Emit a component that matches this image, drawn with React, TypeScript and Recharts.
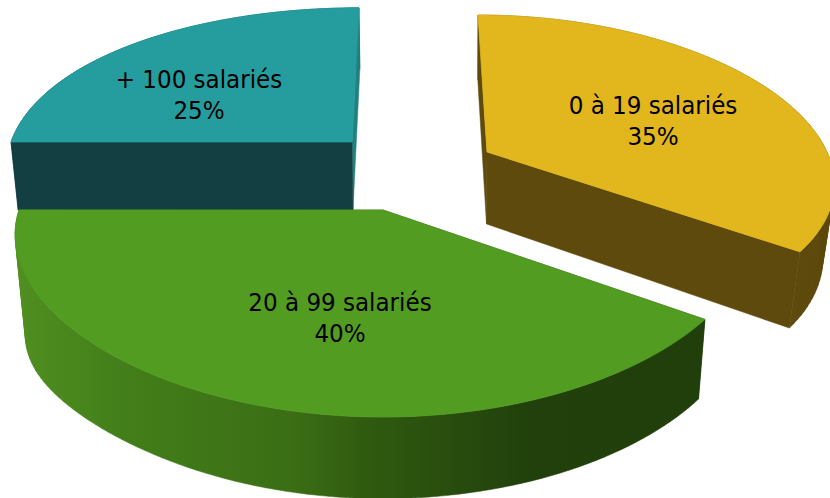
import { PieChart, Pie } from 'recharts'

const categories = ['+ 100 salariés', '0 à 19 salariés', '20 à 99 salariés']
const shares = [25, 35, 40]

const chartData = categories.map((name, i) => ({ name, value: shares[i] }))

const FONT = '"DejaVu Sans Condensed", "DejaVu Sans", sans-serif'

// how each exploded slice is tilted and pushed away from the pie centre
const sliceLooks = [
  {
    dx: -31, dy: -68, rx: 341, ry: 161, px: 0.145, py: 0.2, shear: -7,
    depth: 68, depthTilt: 0.1, sag: 0, shrink: 0.982, baseDx: 1,
    top: '#259d9e', startWall: '#133e42', endWall: '#23807f', arcWall: '#133e42',
    labelX: -184, labelY: -122,
  },
  {
    dx: 104, dy: -58, rx: 340, ry: 156, px: 0.18, py: 0.139, shear: 9,
    depth: 72, depthTilt: 0.1, sag: 0, shrink: 0.968, baseDx: -0.5,
    top: '#e2b61d', startWall: '#5e4a0d', endWall: '#5e4a0d', arcWall: '#5e4a0d',
    labelX: 270, labelY: -96,
  },
  {
    dx: 0, dy: 0, rx: 364, ry: 162.7, px: 0.145, py: 0.214, shear: 0,
    depth: 77, depthTilt: 0.06, sag: 23, shrink: 0.98, baseDx: 0,
    top: '#529c22', startWall: '#203f0b', endWall: 'url(#greenWall)', arcWall: 'url(#greenWall)',
    labelX: -43, labelY: 101,
  },
]

type Look = (typeof sliceLooks)[number]

function project(look: Look, cx: number, cy: number, angle: number, onBase = false) {
  const a = (angle * Math.PI) / 180
  const u = Math.cos(a)
  const v = -Math.sin(a)
  const ax = cx + look.dx
  const ay = cy + look.dy
  const x = (look.rx * u) / (1 - look.px * v) + look.shear * v
  const y = (look.ry * v) / (1 - look.py * v)
  if (!onBase) return { x: ax + x, y: ay + y }
  // the wall gets a bit taller towards the far left of the big slice
  const sag = u < 0 ? look.sag * Math.pow(-u, 6) : 0
  const fade = Math.min(1, Math.max(0, v / 0.15))
  return {
    x: ax + look.baseDx + x * look.shrink + sag * 0.13,
    y: ay + y + look.depth * (1 + look.depthTilt * v) + sag * fade,
  }
}

function arcAngles(start: number, end: number) {
  const steps = Math.ceil(Math.abs(start - end) / 1.5)
  return Array.from({ length: steps + 1 }, (_, i) => start + ((end - start) * i) / steps)
}

// keep every quad wound the same way, otherwise overlaps cancel out in one path
function quad(a: any, b: any, c: any, d: any) {
  const pts = [a, b, c, d]
  const area = pts.reduce((s, p, i) => {
    const q = pts[(i + 1) % 4]
    return s + p.x * q.y - q.x * p.y
  }, 0)
  const ordered = area < 0 ? [...pts].reverse() : pts
  return 'M' + ordered.map((p) => `${p.x},${p.y}`).join('L') + 'Z'
}

function Slice(props: any) {
  const { cx, cy, startAngle, endAngle, index } = props
  const look = sliceLooks[index]
  const angles = arcAngles(startAngle, endAngle)
  const apex = { x: cx + look.dx, y: cy + look.dy }
  const apexBase = { x: apex.x + look.baseDx, y: apex.y + look.depth }

  const rim = angles.map((a) => project(look, cx, cy, a))
  const rimBase = angles.map((a) => project(look, cx, cy, a, true))

  const arcWall = rim
    .slice(1)
    .map((p, i) => quad(rim[i], p, rimBase[i + 1], rimBase[i]))
    .join('')
  const last = rim.length - 1
  const topPath =
    `M${apex.x},${apex.y}` + rim.map((p) => `L${p.x},${p.y}`).join('') + 'Z'

  return (
    <g>
      <path d={arcWall} fill={look.arcWall} stroke={look.arcWall} strokeWidth={0.5} />
      <path d={quad(apex, rim[last], rimBase[last], apexBase)} fill={look.endWall} stroke={look.endWall} strokeWidth={0.5} />
      <path d={quad(apex, rim[0], rimBase[0], apexBase)} fill={look.startWall} stroke={look.startWall} strokeWidth={0.5} />
      <path d={topPath} fill={look.top} stroke={look.top} strokeWidth={0.8} />
    </g>
  )
}

function SliceLabel(props: any) {
  const { cx, cy, index, name, value } = props
  const look = sliceLooks[index]
  const x = cx + look.labelX
  const y = cy + look.labelY
  return (
    <text x={x} y={y} textAnchor="middle" fontFamily={FONT} fontSize={25.6} fill="#000">
      <tspan x={x} y={y}>{name}</tspan>
      <tspan x={x} y={y + 31}>{`${value}%`}</tspan>
    </text>
  )
}

export default function App() {
  return (
    <div style={{ position: 'absolute', left: 0, top: 0, width: 830, height: 498, overflow: 'hidden', background: '#fff' }}>
      <PieChart width={830} height={498} margin={{ top: 0, right: 0, bottom: 0, left: 0 }}>
        <defs>
          <linearGradient id="greenWall" gradientUnits="userSpaceOnUse" x1={15} y1={0} x2={705} y2={0}>
            <stop offset="0%" stopColor="#508f20" />
            <stop offset="15%" stopColor="#437f1a" />
            <stop offset="40%" stopColor="#3b6e15" />
            <stop offset="52%" stopColor="#2f590f" />
            <stop offset="75%" stopColor="#21400c" />
            <stop offset="100%" stopColor="#203f0b" />
          </linearGradient>
        </defs>
        <Pie
          data={chartData}
          dataKey="value"
          nameKey="name"
          cx={383}
          cy={210}
          outerRadius={360}
          startAngle={180}
          endAngle={-180}
          paddingAngle={0}
          stroke="none"
          isAnimationActive={false}
          shape={Slice}
          label={SliceLabel}
          labelLine={false}
        />
      </PieChart>
    </div>
  )
}
